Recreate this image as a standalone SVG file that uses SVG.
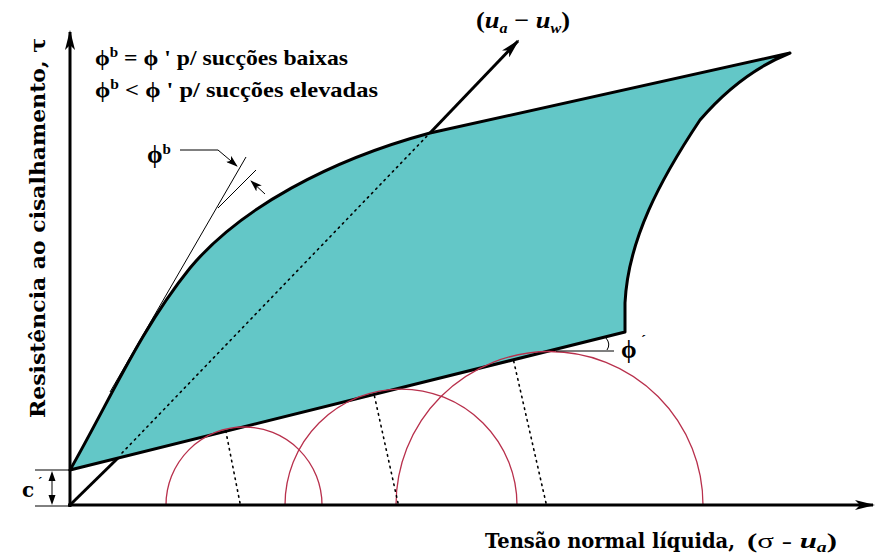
<svg xmlns="http://www.w3.org/2000/svg" width="882" height="556" viewBox="0 0 882 556">
<defs>
<style>
.ax{stroke:#000;stroke-width:3;fill:none}
.thin{stroke:#000;stroke-width:1;fill:none}
.circ{stroke:#b8304c;stroke-width:1.3;fill:none}
.dot{stroke:#000;stroke-width:1.6;fill:none;stroke-dasharray:1.5 4.5;stroke-linecap:round}
.t{font-family:"Liberation Serif","Times New Roman",serif;font-weight:bold;fill:#000}
.w{font-family:"DejaVu Serif",serif;font-weight:bold;fill:#000}
.i{font-style:italic}
</style>
<marker id="ah" viewBox="0 0 20 10" refX="18" refY="5" markerWidth="20" markerHeight="10" markerUnits="userSpaceOnUse" orient="auto">
<path d="M0,0 L20,5 L0,10 L5,5 Z" fill="#000"/>
</marker>
<marker id="sh" viewBox="0 0 12 8" refX="11" refY="4" markerWidth="12" markerHeight="8" markerUnits="userSpaceOnUse" orient="auto">
<path d="M0,0 L12,4 L0,8 L3,4 Z" fill="#000"/>
</marker>
</defs>
<rect width="882" height="556" fill="#fff"/>

<g id="envelope">
<path d="M70,470 L625,332 L625,303 C628,240 660,180 700,120 C730,85 760,65 790,53 L430,133 C330,160 240,208 190,268 C140,330 110,400 70,470 Z" fill="#63c7c7" stroke="#000" stroke-width="3" stroke-linejoin="round"/>
</g>

<g id="circles">
<path class="circ" d="M166,505 A78,78 0 0 1 322,505"/>
<path class="circ" d="M285,505 A116,116 0 0 1 517,505"/>
<path class="circ" d="M396,505 A153.5,153.5 0 0 1 703,505"/>
<path class="dot" d="M240,503 L226,432"/>
<path class="dot" d="M398,503 L374,394"/>
<path class="dot" d="M546,503 L513,358"/>
</g>

<g id="connectors">
<path class="ax" d="M70,507 L70,32" marker-end="url(#ah)"/>
<path class="ax" d="M68,505 L873,505" marker-end="url(#ah)"/>
<path class="ax" d="M70,505 L118,458"/>
<path class="dot" d="M122,453 L428,135"/>
<path class="ax" d="M430,133 L518,41" marker-end="url(#ah)"/>
<path class="thin" d="M35,470 L70,470 M35,506 L70,506"/>
<path class="thin" d="M52,480 L52,497"/>
<path d="M52,471 L48.5,481 L55.5,481 Z M52,505 L48.5,495 L55.5,495 Z" fill="#000"/>
<path class="thin" d="M556,351 L614,351"/>
<path class="thin" d="M606,338 Q611,344 607,350"/>
<path class="thin" d="M110,392 L246,157"/>
<path class="thin" d="M218,208 L256,170"/>
<path class="thin" d="M180,150 L218,150 L237,166" marker-end="url(#sh)"/>
<path class="thin" d="M265,194 L251,181" marker-end="url(#sh)"/>
</g>

<g id="labels">
<text class="t" x="95" y="65" font-size="22" textLength="253" lengthAdjust="spacingAndGlyphs">ϕ<tspan font-size="14" dy="-8">b</tspan><tspan dy="8"> = ϕ ' p/ sucções baixas</tspan></text>
<text class="t" x="95" y="97" font-size="22" textLength="283" lengthAdjust="spacingAndGlyphs">ϕ<tspan font-size="14" dy="-8">b</tspan><tspan dy="8"> &lt; ϕ ' p/ sucções elevadas</tspan></text>
<text class="t" x="147" y="163" font-size="25">ϕ<tspan font-size="15" dy="-9">b</tspan></text>
<text class="t" x="476" y="28" font-size="23" textLength="94" lengthAdjust="spacingAndGlyphs">(<tspan class="i">u</tspan><tspan class="i" font-size="14" dy="5">a</tspan><tspan dy="-5"> − </tspan><tspan class="i">u</tspan><tspan class="i" font-size="14" dy="5">w</tspan><tspan dy="-5">)</tspan></text>
<text class="t" x="621" y="358" font-size="25">ϕ</text>
<text class="t" x="641" y="345" font-size="15">´</text>
<text class="w" x="22" y="497" font-size="20">c</text>
<text class="t" x="38" y="486" font-size="13">´</text>
<text class="w" transform="translate(45,418) rotate(-90)" font-size="20" textLength="380" lengthAdjust="spacingAndGlyphs">Resistência ao cisalhamento, τ</text>
<text class="w" x="485" y="548" font-size="20" textLength="250" lengthAdjust="spacingAndGlyphs">Tensão normal líquida,</text>
<text class="t" x="747" y="548" font-size="22" textLength="90" lengthAdjust="spacingAndGlyphs">(<tspan font-weight="normal">σ</tspan> - <tspan class="i">u</tspan><tspan class="i" font-size="14" dy="4">a</tspan><tspan dy="-4">)</tspan></text>
</g>
</svg>
